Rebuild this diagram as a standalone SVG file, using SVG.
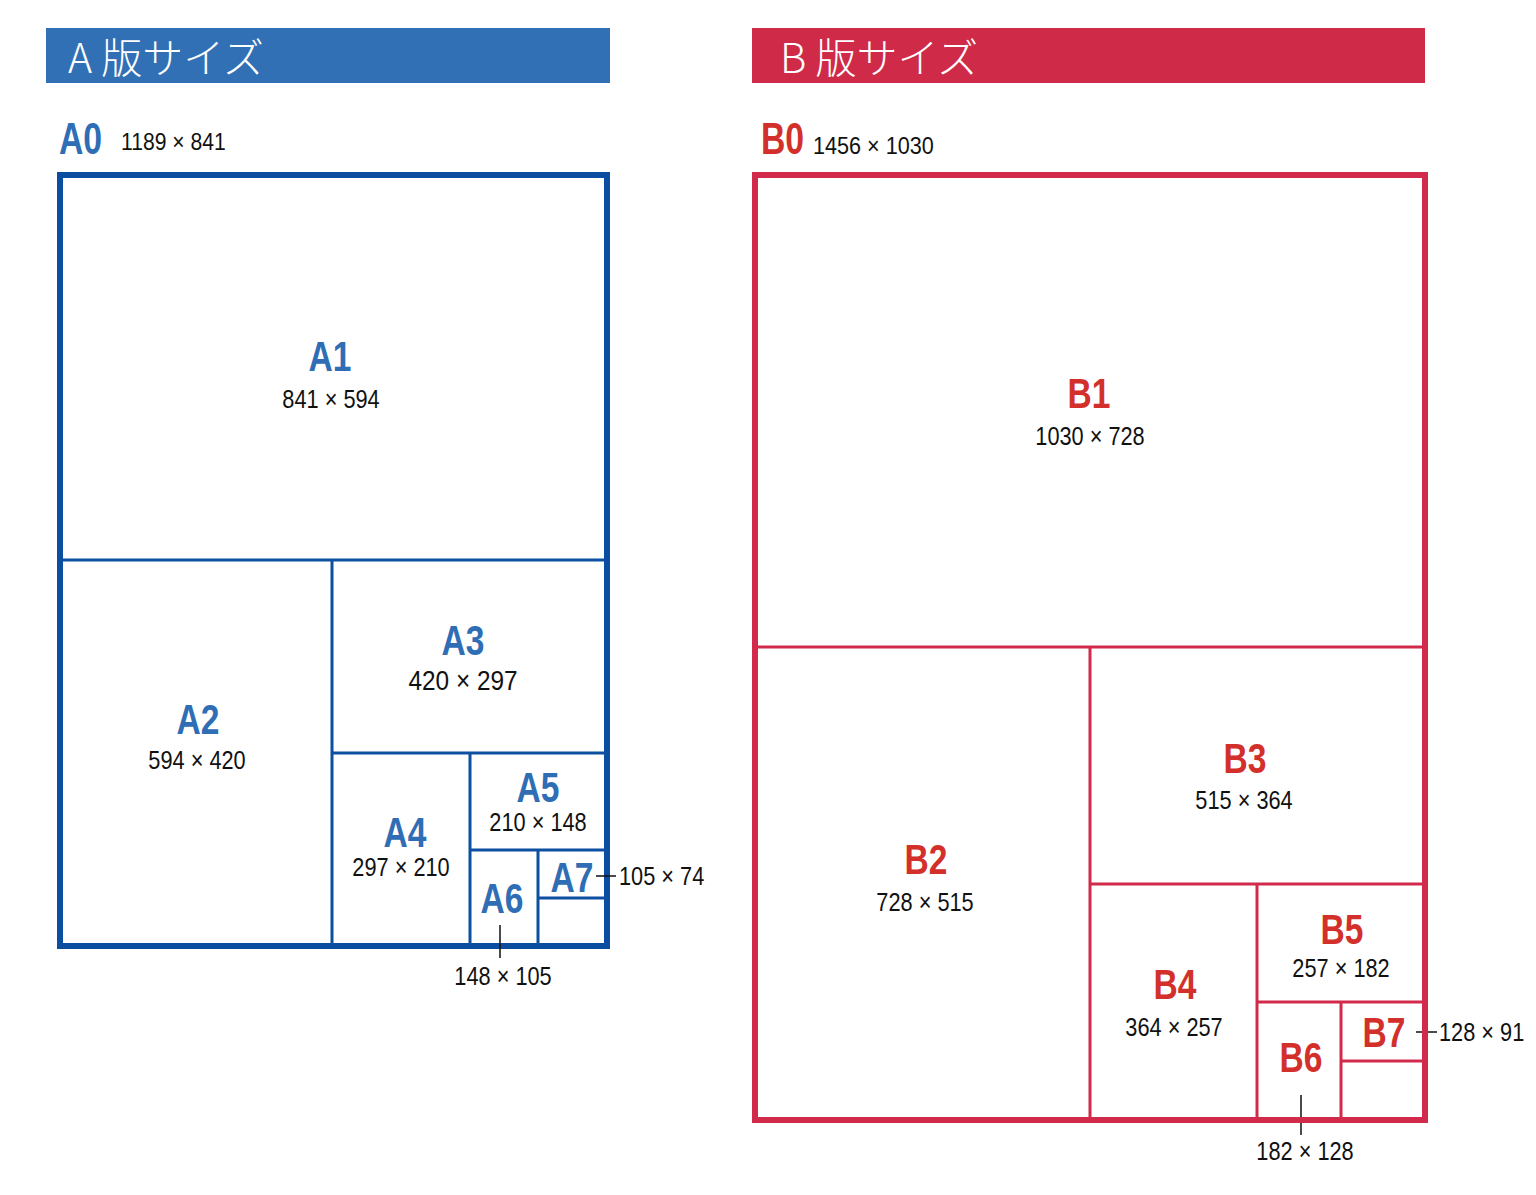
<svg xmlns="http://www.w3.org/2000/svg" width="1536" height="1195" viewBox="0 0 1536 1195">
<style>
.hdr{font-family:"Noto Sans CJK JP","Noto Sans",sans-serif;font-weight:300;font-size:41px;fill:#fff}
.lbA{font-family:"Liberation Sans",Arial,sans-serif;font-weight:bold;font-size:43px;fill:#2f6db5;text-anchor:middle}
.lbB{font-family:"Liberation Sans",Arial,sans-serif;font-weight:bold;font-size:43px;fill:#d3302b;text-anchor:middle}
.dim{font-family:"Liberation Sans",Arial,sans-serif;font-size:25px;fill:#111;text-anchor:middle}
.st{text-anchor:start}
.frA{fill:none;stroke:#0b4d9e;stroke-width:6}
.inA{fill:none;stroke:#0d4fa0;stroke-width:3}
.frB{fill:none;stroke:#d22a4b;stroke-width:6}
.inB{fill:none;stroke:#d22a4b;stroke-width:3}
.ld{stroke:#111;stroke-width:1.5;fill:none}
</style>
<rect width="1536" height="1195" fill="#fff"/>
<g id="headerA">
<rect x="46" y="28" width="564" height="55" fill="#3170b5"/>
<text class="hdr" x="68" y="73">A 版サイズ</text>
</g>
<g id="headerB">
<rect x="752" y="28" width="673" height="55" fill="#cf2a48"/>
<text class="hdr" x="780" y="73">B 版サイズ</text>
</g>
<g id="A0">
<rect class="frA" x="60" y="175" width="547" height="771"/>
<text class="lbA st" style="font-size:45px" transform="translate(59 154) scale(0.75 1)">A0</text>
<text class="dim st" style="font-size:23px" transform="translate(121 150) scale(0.92 1)">1189 × 841</text>
</g>
<g id="connectors">
<path class="inA" d="M60 560H607M332 560V946M332 753H607M470 753V946M470 850H607M538 850V946M538 898H607"/>
<path class="inB" d="M755 647H1425M1090 647V1120M1090 884H1425M1257 884V1120M1257 1002H1425M1341 1002V1120M1341 1061H1425"/>
<path class="ld" d="M596 876H616M500 925V958M1416 1032H1437M1301 1095V1135"/>
</g>
<g id="A1">
<text class="lbA" transform="translate(330 371) scale(0.78 1)">A1</text>
<text class="dim" transform="translate(331 408) scale(0.87 1)">841 × 594</text>
</g>
<g id="A2">
<text class="lbA" transform="translate(198 734) scale(0.78 1)">A2</text>
<text class="dim" transform="translate(197 769) scale(0.87 1)">594 × 420</text>
</g>
<g id="A3">
<text class="lbA" transform="translate(463 655) scale(0.78 1)">A3</text>
<text class="dim" style="font-size:28px" transform="translate(463 690) scale(0.87 1)">420 × 297</text>
</g>
<g id="A4">
<text class="lbA" transform="translate(405 847) scale(0.78 1)">A4</text>
<text class="dim" transform="translate(401 876) scale(0.87 1)">297 × 210</text>
</g>
<g id="A5">
<text class="lbA" transform="translate(538 802) scale(0.78 1)">A5</text>
<text class="dim" transform="translate(538 831) scale(0.87 1)">210 × 148</text>
</g>
<g id="A6">
<text class="lbA" transform="translate(502 913) scale(0.78 1)">A6</text>
<text class="dim" transform="translate(503 985) scale(0.87 1)">148 × 105</text>
</g>
<g id="A7">
<text class="lbA" transform="translate(572 892) scale(0.78 1)">A7</text>
<text class="dim st" transform="translate(619 885) scale(0.87 1)">105 × 74</text>
</g>
<g id="B0">
<rect class="frB" x="755" y="175" width="670" height="945"/>
<text class="lbB st" style="font-size:45px" transform="translate(761 154) scale(0.75 1)">B0</text>
<text class="dim st" style="font-size:24px" transform="translate(813 154) scale(0.9 1)">1456 × 1030</text>
</g>
<g id="B1">
<text class="lbB" transform="translate(1089 408) scale(0.78 1)">B1</text>
<text class="dim" transform="translate(1090 445) scale(0.87 1)">1030 × 728</text>
</g>
<g id="B2">
<text class="lbB" transform="translate(926 874) scale(0.78 1)">B2</text>
<text class="dim" transform="translate(925 911) scale(0.87 1)">728 × 515</text>
</g>
<g id="B3">
<text class="lbB" transform="translate(1245 773) scale(0.78 1)">B3</text>
<text class="dim" transform="translate(1244 809) scale(0.87 1)">515 × 364</text>
</g>
<g id="B4">
<text class="lbB" transform="translate(1175 999) scale(0.78 1)">B4</text>
<text class="dim" transform="translate(1174 1036) scale(0.87 1)">364 × 257</text>
</g>
<g id="B5">
<text class="lbB" transform="translate(1342 944) scale(0.78 1)">B5</text>
<text class="dim" transform="translate(1341 977) scale(0.87 1)">257 × 182</text>
</g>
<g id="B6">
<text class="lbB" transform="translate(1301 1072) scale(0.78 1)">B6</text>
<text class="dim" transform="translate(1305 1160) scale(0.87 1)">182 × 128</text>
</g>
<g id="B7">
<text class="lbB" transform="translate(1384 1047) scale(0.78 1)">B7</text>
<text class="dim st" transform="translate(1439 1041) scale(0.87 1)">128 × 91</text>
</g>
</svg>
